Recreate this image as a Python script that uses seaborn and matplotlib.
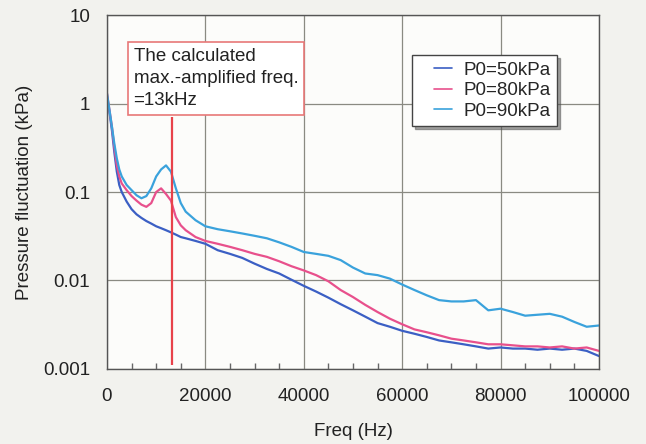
import numpy as np
import pandas as pd
import matplotlib
matplotlib.use("Agg")
import matplotlib.pyplot as plt
import seaborn as sns
from matplotlib.ticker import MultipleLocator, FixedLocator, FixedFormatter, NullLocator

freq = [0, 500, 1000, 1500, 2000, 2500, 3000, 4000, 5000, 6000, 7000, 8000, 9000,
        10000, 11000, 12000, 13000, 14000, 15000, 16000, 18000, 20000, 22500, 25000,
        27500, 30000, 32500, 35000, 37500, 40000, 42500, 45000, 47500, 50000, 52500,
        55000, 57500, 60000, 62500, 65000, 67500, 70000, 72500, 75000, 77500, 80000,
        82500, 85000, 87500, 90000, 92500, 95000, 97500, 100000]

p50 = [1.2, 0.8, 0.5, 0.28, 0.17, 0.12, 0.1, 0.078, 0.064, 0.056, 0.051, 0.047, 0.044,
       0.041, 0.039, 0.037, 0.035, 0.033, 0.031, 0.030, 0.028, 0.026, 0.022, 0.020,
       0.018, 0.0155, 0.0135, 0.012, 0.0102, 0.0087, 0.0075, 0.0064, 0.0054, 0.0046, 0.0039,
       0.0033, 0.0030, 0.0027, 0.0025, 0.0023, 0.0021, 0.0020, 0.0019, 0.0018, 0.0017, 0.00175,
       0.0017, 0.0017, 0.00165, 0.0017, 0.00165, 0.0017, 0.0016, 0.0014]

p80 = [1.3, 0.85, 0.55, 0.32, 0.2, 0.15, 0.125, 0.105, 0.09, 0.08, 0.072, 0.068, 0.075,
       0.1, 0.11, 0.095, 0.08, 0.052, 0.042, 0.037, 0.031, 0.028, 0.026, 0.024,
       0.022, 0.020, 0.0185, 0.0165, 0.0145, 0.013, 0.0115, 0.0098, 0.0078, 0.0065, 0.0053,
       0.0044, 0.0037, 0.0032, 0.0028, 0.0026, 0.0024, 0.0022, 0.0021, 0.0020, 0.0019, 0.0019,
       0.00185, 0.0018, 0.0018, 0.00175, 0.0018, 0.0017, 0.00175, 0.0016]

p90 = [1.3, 0.85, 0.55, 0.35, 0.24, 0.18, 0.15, 0.12, 0.105, 0.092, 0.085, 0.09, 0.11,
       0.15, 0.18, 0.2, 0.17, 0.11, 0.075, 0.06, 0.048, 0.041, 0.038, 0.036,
       0.034, 0.032, 0.03, 0.027, 0.024, 0.021, 0.02, 0.019, 0.017, 0.014, 0.012,
       0.0115, 0.0105, 0.009, 0.0078, 0.0068, 0.006, 0.0058, 0.0058, 0.006, 0.0046, 0.0048,
       0.0044, 0.004, 0.0041, 0.0042, 0.0039, 0.0034, 0.003, 0.0031]

series_names = ["P0=50kPa", "P0=80kPa", "P0=90kPa"]
series_colors = ["#3b5fc4", "#e8508c", "#3aa2dc"]

x_ticks = [0, 20000, 40000, 60000, 80000, 100000]
y_ticks = [0.001, 0.01, 0.1, 1, 10]
y_tick_labels = ["0.001", "0.01", "0.1", "1", "10"]

marker_freq = 13300
annotation = "The calculated\nmax.-amplified freq.\n=13kHz"

df = pd.DataFrame({
    "Freq": freq * 3,
    "Value": p50 + p80 + p90,
    "Series": [series_names[0]] * len(freq) + [series_names[1]] * len(freq) + [series_names[2]] * len(freq),
})

sns.set_theme(style="white")
plt.rcParams["font.family"] = ["Liberation Sans", "DejaVu Sans"]

FS = 13.5

fig = plt.figure(figsize=(6.46, 4.44), dpi=100, facecolor="#f2f2ee")
ax = fig.add_axes([0.1656, 0.169, 0.7616, 0.797])
ax.set_facecolor("#fcfcfa")

sns.lineplot(data=df, x="Freq", y="Value", hue="Series", palette=series_colors,
             hue_order=series_names, linewidth=1.6, ax=ax, legend=True)

ax.set_yscale("log")
ax.set_xlim(0, 100000)
ax.set_ylim(0.001, 10)
ax.yaxis.set_major_locator(FixedLocator(y_ticks))
ax.yaxis.set_major_formatter(FixedFormatter(y_tick_labels))
ax.yaxis.set_minor_locator(NullLocator())
ax.set_xticks(x_ticks)
ax.xaxis.set_minor_locator(MultipleLocator(5000))
ax.grid(True, which="major", color="#8a8a82", linewidth=0.9)
ax.tick_params(axis="both", which="major", length=0, labelsize=FS, colors="#222222")
ax.tick_params(axis="x", which="major", pad=14)
ax.tick_params(axis="y", which="major", pad=12)
ax.tick_params(axis="x", which="minor", direction="in", length=4, color="#666666", bottom=True)
for s in ax.spines.values():
    s.set_color("#555555")
    s.set_linewidth(1.0)

ax.set_xlabel("Freq (Hz)", fontsize=FS, color="#222222", labelpad=13)
ax.set_ylabel("Pressure fluctuation (kPa)", fontsize=FS, color="#222222", labelpad=7)

ax.vlines(marker_freq, 0.0011, 0.7, color="#e8424a", linewidth=1.6, zorder=3)

ax.text(0.054, 0.907, annotation, transform=ax.transAxes, fontsize=FS, color="#222222",
        va="top", ha="left", linespacing=1.38, zorder=4,
        bbox=dict(boxstyle="square,pad=0.32", facecolor="white", edgecolor="#e87878", linewidth=1.2))

leg = ax.legend(loc="upper left", bbox_to_anchor=(0.62, 0.887), fontsize=FS, frameon=True,
                fancybox=False, shadow=True, handlelength=2.0, handletextpad=0.4,
                borderpad=0.35, labelspacing=0.18, borderaxespad=0)
leg.get_frame().set_edgecolor("#444444")
leg.get_frame().set_facecolor("white")
for line in leg.get_lines():
    line.set_linewidth(1.2)
    xd = np.asarray(line.get_xdata(), dtype=float)
    x0, x1 = xd.min(), xd.max()
    line.set_xdata(np.linspace(x0 + (x1 - x0) * 0.4, x1 - (x1 - x0) * 0.1, len(xd)))

fig.savefig("out.png", dpi=100, facecolor=fig.get_facecolor())
